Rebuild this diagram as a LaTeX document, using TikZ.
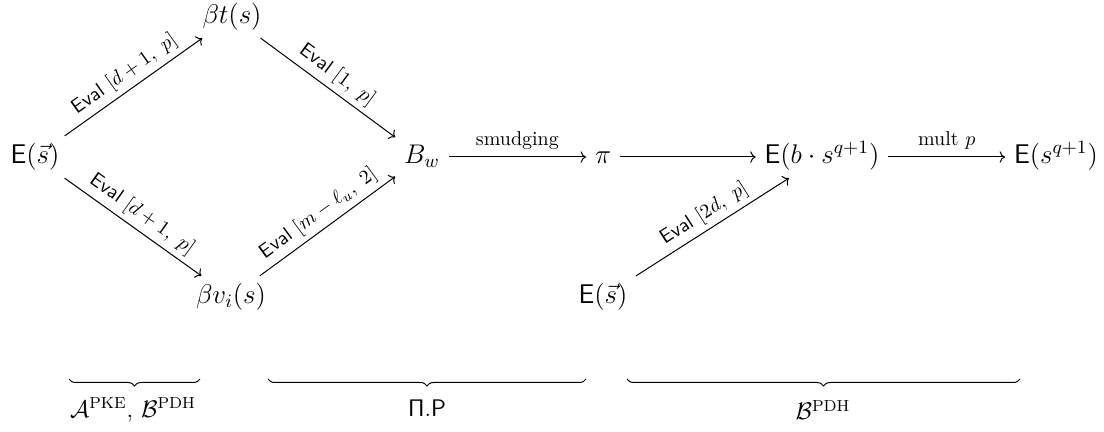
\RequirePackage{fix-cm}
\documentclass[tikz,border=0pt]{standalone}
\usepackage{amsmath}
\usepackage{tikz}
\usetikzlibrary{arrows.meta, positioning, decorations.pathreplacing}

\begin{document}
\begin{tikzpicture}[
    x=0.5pt, y=-0.5pt,
    every node/.style={font=\large},
    term/.style={font=\fontsize{13.5}{16}\selectfont, inner xsep=1ex, inner ysep=0.85ex, text height=10pt, text depth=3.4pt},
    arrow/.style={-{Computer Modern Rightarrow}, line width=0.5pt},
    evallbl/.style={font=\normalsize, midway, above, sloped, inner sep=2.5pt},
    toplbl/.style={font=\normalsize, midway, above},
    bracedown/.style={decorate, decoration={brace, mirror, amplitude=3.5pt}, line width=0.5pt}
  ]
  \useasboundingbox (0,0) rectangle (1104,432);
  % terms
  \node[term] (es) at (35,157) {$\mathsf{E}(\vec{s})$};
  \node[term] (bt) at (232,17) {$\beta t(s)$};
  \node[term] (bv) at (231,297) {$\beta v_i(s)$};
  \node[term] (bw) at (422,157) {$B_w$};
  \node[term] (pi) at (603,157) {$\pi$};
  \node[term] (ebs) at (822,157) {$\mathsf{E}(b\cdot s^{q+1})$};
  \node[term] (esq) at (1056,157) {$\mathsf{E}(s^{q+1})$};
  \node[term] (es2) at (603,297) {$\mathsf{E}(\vec{s})$};
  % arrows
  \draw[arrow] (es) -- node[evallbl] {\textsf{Eval} $[d+1,\ p]$} (bt);
  \draw[arrow] (es) -- node[evallbl] {\textsf{Eval} $[d+1,\ p]$} (bv);
  \draw[arrow] (bt) -- node[evallbl] {\textsf{Eval} $[1,\ p]$} (bw);
  \draw[arrow] (bv) -- node[evallbl] {\textsf{Eval} $[m-\ell_u,\ 2]$} (bw);
  \draw[arrow] (bw) -- node[toplbl] {smudging} (pi);
  \draw[arrow] (pi) -- (ebs);
  \draw[arrow] (es2) -- node[evallbl] {\textsf{Eval} $[2d,\ p]$} (ebs);
  \draw[arrow] (ebs) -- node[toplbl] {mult $p$} (esq);
  % braces
  \draw[bracedown] (69,379) -- (200,379);
  \draw[bracedown] (268,379) -- (586,379);
  \draw[bracedown] (627,379) -- (1020,379);
  \node (grpa) at (133,410) {$\mathcal{A}^{\mathrm{PKE}}$, $\mathcal{B}^{\mathrm{PDH}}$};
  \node (grpb) at (427,408) {$\mathsf{\Pi.P}$};
  \node (grpc) at (823,410) {$\mathcal{B}^{\mathrm{PDH}}$};
\end{tikzpicture}
\end{document}
